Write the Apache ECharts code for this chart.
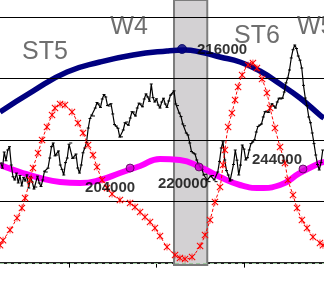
<!DOCTYPE html>
<html>
<head>
<meta charset="utf-8">
<script src="https://cdn.jsdelivr.net/npm/echarts@6/dist/echarts.min.js"></script>
<style>
html,body{margin:0;padding:0;background:#fff;}
#chart{width:324px;height:282px;}
</style>
</head>
<body>
<div id="chart"></div>
<script>
// ---- data ----
const xTicks = [50, 100, 150];
const gridValues = [10, 20, 30, 40];
const baseLine = -0.11;
const shadeRange = [110, 129];

// price (black), one value per day starting at day 11
const priceStart = 11;
const priceStep = 1;
const price = [
  16.24, 15.4, 18.03, 16.6, 18.36, 18.9, 15.91, 14.0, 13.47, 14.6,
  12.98, 14.2, 12.49, 13.9, 13.30, 14.3, 12.16, 14.0, 13.14, 12.0,
  12.32, 14.1, 12.98, 12.4, 13.47, 14.9, 14.77, 15.4, 17.05, 18.9,
  19.50, 17.4, 17.54, 18.2, 15.91, 15.2, 14.28, 16.3, 17.05, 19.3,
  19.50, 17.0, 17.05, 17.7, 15.42, 14.6, 15.91, 17.9, 18.68, 19.6,
  21.94, 23.5, 24.06, 23.9, 25.20, 26.1, 25.86, 25.3, 26.67, 27.4,
  27.00, 25.6, 25.53, 25.9, 24.23, 22.5, 22.27, 21.9, 20.47, 20.5,
  21.62, 22.8, 22.92, 22.4, 23.57, 24.6, 24.55, 23.9, 25.20, 26.0,
  25.86, 25.4, 26.67, 27.5, 27.00, 26.3, 29.12, 26.9, 26.18, 26.7,
  25.69, 25.2, 26.18, 26.8, 25.86, 25.3, 26.35, 27.3, 27.49, 28.0,
  25.86, 25.6, 24.39, 23.8, 22.60, 22.3, 21.13, 20.8, 19.50, 18.1,
  17.87, 17.7, 16.73, 16.0, 15.59, 15.2, 14.28, 14.4, 13.47, 13.2,
  14.12, 14.2, 13.47, 13.2, 14.77, 16.5, 18.68, 19.7, 16.73, 15.0,
  14.28, 13.3, 13.47, 16.0, 18.36, 16.7, 14.28, 15.9, 19.17, 18.5,
  16.73, 17.1, 18.36, 19.4, 19.66, 20.0, 21.29, 22.2, 22.43, 22.6,
  23.74, 24.6, 24.71, 24.5, 25.37, 25.9, 25.53, 25.2, 26.18, 26.8,
  26.67, 26.8, 27.81, 29.3, 30.09, 31.4, 33.36, 34.7, 35.47, 34.9,
  33.68, 33.0, 31.72, 28.9, 26.83, 25.6, 23.74, 22.8, 21.13, 19.4,
  17.54, 16.0, 15.10, 16.3, 18.36
];

// long cycle (navy)
const blueX = [10.6, 29.4, 48.9, 67.7, 86.6, 106.0, 116.3, 124.9, 136.3, 147.7, 159.1, 170.6, 182.0, 193.4, 195.7];
const blueY = [24.55, 27.97, 31.07, 32.70, 33.84, 34.50, 34.66, 34.33, 33.52, 32.70, 31.24, 29.12, 26.83, 24.06, 23.57];

// medium cycle (magenta)
const magX = [10.6, 22.0, 33.4, 44.9, 56.3, 67.7, 79.1, 90.6, 102.0, 113.4, 124.9, 136.3, 147.7, 159.1, 170.6, 182.0, 193.4, 195.7];
const magY = [15.91, 14.77, 13.79, 13.14, 12.98, 13.47, 14.61, 15.75, 16.89, 16.73, 15.59, 13.95, 12.65, 12.16, 12.65, 14.61, 16.24, 16.40];

// short cycle (red)
const redX = [10.6, 12.3, 16.3, 20.3, 23.1, 24.9, 27.7, 29.4, 32.3, 34.6, 37.4, 40.3, 42.0, 44.9, 47.7, 51.7, 55.1, 58.0, 60.9, 63.7,
  66.0, 68.9, 71.7, 74.6, 79.1, 84.9, 87.7, 90.6, 93.4, 96.3, 99.1, 102.0, 106.0, 110.6, 113.4, 116.3, 120.3, 124.9, 127.7, 130.6,
  133.4, 136.3, 138.0, 139.1, 140.9, 143.1, 144.9, 146.6, 148.9, 152.3, 155.1, 157.4, 160.3, 163.1, 164.9, 167.7, 170.6, 173.4, 175.1, 178.0,
  180.3, 183.1, 186.0, 189.4, 193.4, 195.1];
const redY = [2.84, 3.65, 5.31, 7.27, 8.90, 10.53, 13.47, 15.42, 17.87, 19.99, 22.11, 24.06, 25.20, 25.86, 25.69, 24.55, 22.76, 21.13, 19.17, 17.54,
  15.59, 13.47, 12.16, 11.18, 10.21, 9.72, 9.06, 8.25, 7.43, 6.62, 5.64, 4.34, 2.54, 1.24, 0.75, 0.59, 0.91, 2.71, 4.50, 6.95,
  9.88, 12.32, 15.91, 18.36, 22.11, 24.39, 26.51, 28.63, 30.59, 32.22, 32.54, 31.72, 29.93, 27.65, 25.20, 21.94, 18.85, 16.24, 13.47, 11.02,
  8.90, 6.95, 5.64, 4.17, 3.19, 2.84];

// marked turning points
const markX = [114.6, 84.9, 124.3, 183.7];
const markY = [34.82, 15.42, 15.59, 15.26];
const markLabels = ['216000', '204000', '220000', '244000'];

// wave names
const waveX = [36.3, 84.3, 157.4, 191.0];
const waveY = [34.33, 38.41, 36.94, 38.41];
const waveLabels = ['ST5', 'W4', 'ST6', 'W5'];

// ---- chart ----
const FONT = "'Liberation Sans', Arial, sans-serif";
const zip = (xs, ys) => xs.map((x, i) => [x, ys[i]]);
const priceData = price.map((v, i) => [priceStart + i * priceStep, v]);

const markStyle = [
  { color: '#000080', border: '#000060', size: 9, offset: [40, 1] },
  { color: '#d000d0', border: '#500050', size: 8, offset: [-20, 20] },
  { color: '#d000d0', border: '#500050', size: 8, offset: [-16, 17] },
  { color: '#d000d0', border: '#500050', size: 8, offset: [-26, -9] }
];

const chart = echarts.init(document.getElementById('chart'), null, { renderer: 'canvas' });
chart.setOption({
  animation: false,
  backgroundColor: '#fff',
  grid: { left: 0, right: 0, top: 0, bottom: 17 },
  xAxis: {
    type: 'value', min: 10.57, max: 195.71,
    axisLine: { show: true, lineStyle: { color: '#222', width: 2 } },
    axisTick: { show: true, customValues: xTicks, length: 5, lineStyle: { color: '#000', width: 1 } },
    axisLabel: { show: false, customValues: xTicks },
    splitLine: { show: false }
  },
  yAxis: {
    type: 'value', min: -0.39, max: 42.81,
    axisLine: { show: false }, axisTick: { show: false },
    axisLabel: { show: false }, splitLine: { show: false }
  },
  series: [
    {
      type: 'line', data: [], z: 1, silent: true,
      markArea: {
        silent: true,
        itemStyle: { color: '#d3d1d3', borderColor: '#7c7c7c', borderWidth: 2 },
        data: [[{ xAxis: shadeRange[0] }, { xAxis: shadeRange[1] }]]
      },
      markLine: {
        silent: true, symbol: 'none', label: { show: false },
        lineStyle: { color: '#000', width: 1, type: 'solid' },
        data: gridValues.map(v => ({ yAxis: v })).concat([
          { yAxis: baseLine, lineStyle: { color: '#9cc49c', width: 1, type: [4, 3] } }
        ])
      }
    },
    {
      name: 'medium', type: 'line', z: 3, data: zip(magX, magY), smooth: 0.5,
      showSymbol: false, lineStyle: { color: '#ff00ff', width: 6 }
    },
    {
      name: 'long', type: 'line', z: 3, data: zip(blueX, blueY), smooth: 0.5,
      showSymbol: false, lineStyle: { color: '#000080', width: 5.5 }
    },
    {
      name: 'price', type: 'line', z: 4, data: priceData,
      symbol: 'rect', symbolSize: [3, 1], showSymbol: true,
      itemStyle: { color: '#000' }, lineStyle: { color: '#000', width: 1.2 }
    },
    {
      name: 'short', type: 'line', z: 5, data: zip(redX, redY), smooth: 0.3,
      symbol: 'path://M0,1L1,0L5,4L9,0L10,1L6,5L10,9L9,10L5,6L1,10L0,9L4,5Z M4.5,0L5.5,0L5.5,10L4.5,10Z',
      symbolSize: 7, showSymbol: true,
      itemStyle: { color: '#ff0000' },
      lineStyle: { color: '#ff0000', width: 1, type: [3, 2] }
    },
    {
      name: 'marks', type: 'scatter', z: 6,
      data: markX.map((x, i) => ({
        value: [x, markY[i]],
        symbolSize: markStyle[i].size,
        itemStyle: { color: markStyle[i].color, borderColor: markStyle[i].border, borderWidth: 1 },
        label: {
          show: true, formatter: markLabels[i], position: 'inside', offset: markStyle[i].offset,
          color: '#000', textBorderWidth: 0, fontFamily: FONT, fontSize: 15, fontWeight: 'bold'
        }
      }))
    },
    {
      name: 'waves', type: 'scatter', z: 7, symbolSize: 1,
      itemStyle: { color: 'rgba(0,0,0,0)' },
      data: waveX.map((x, i) => ({ value: [x, waveY[i]], name: waveLabels[i] })),
      label: {
        show: true, position: 'inside', formatter: p => p.name,
        color: '#4a4a4a', textBorderWidth: 0, fontFamily: FONT, fontSize: 25
      }
    }
  ]
});
</script>
</body>
</html>
